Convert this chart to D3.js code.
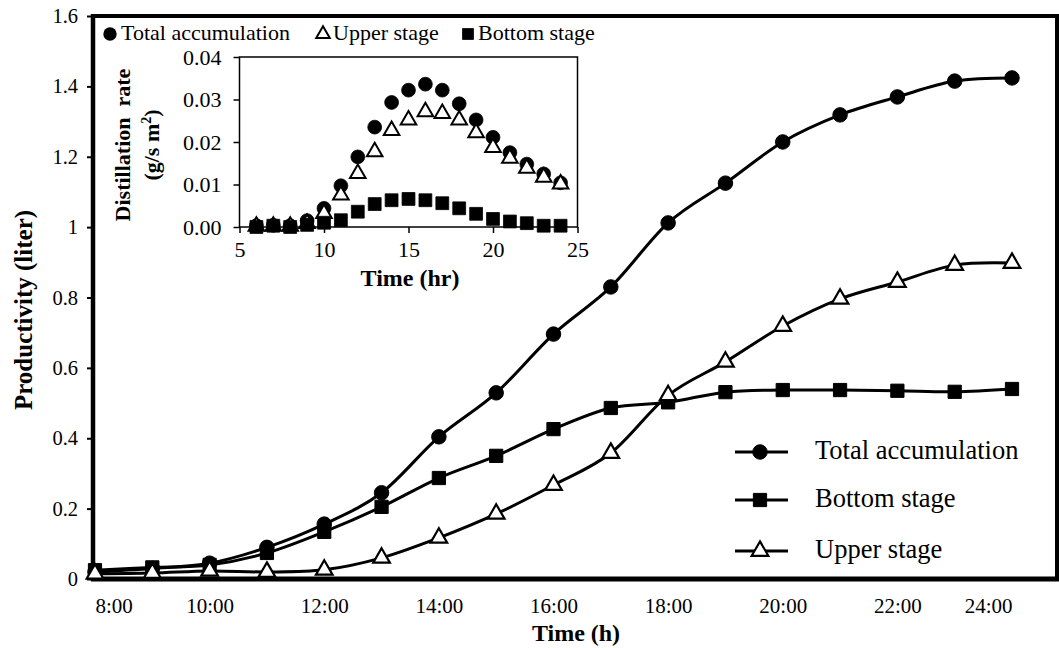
<!DOCTYPE html>
<html><head><meta charset="utf-8">
<script src="https://cdn.jsdelivr.net/npm/d3@7"></script>
<style>
html,body{margin:0;padding:0;background:#fff;}
svg{display:block;font-family:"Liberation Serif","Times New Roman",serif;}
</style></head>
<body><svg id="c" width="1059" height="648"></svg>
<script>
// ---- Main chart data (cumulative productivity, liter) ----
const hours = [8,9,10,11,12,13,14,15,16,17,18,19,20,21,22,23,24];
const totalAcc = [0.02,0.03,0.045,0.09,0.156,0.245,0.404,0.529,0.696,0.83,1.012,1.125,1.242,1.319,1.37,1.415,1.424];
const bottomStage = [0.025,0.033,0.04,0.074,0.134,0.205,0.287,0.35,0.426,0.486,0.502,0.531,0.537,0.537,0.535,0.532,0.54];
const upperStage = [0.015,0.017,0.023,0.02,0.026,0.06,0.117,0.185,0.267,0.358,0.522,0.617,0.719,0.796,0.844,0.892,0.898];
const xTicks = [8,10,12,14,16,18,20,22,24];
const xTickLabels = ["8:00","10:00","12:00","14:00","16:00","18:00","20:00","22:00","24:00"];
const yTicks = [0,0.2,0.4,0.6,0.8,1,1.2,1.4,1.6];
const yTickLabels = ["0","0.2","0.4","0.6","0.8","1","1.2","1.4","1.6"];
const legendNames = ["Total accumulation","Bottom stage","Upper stage"];

// ---- Inset data (distillation rate, g/s m2) ----
const rateHours = [6,7,8,9,10,11,12,13,14,15,16,17,18,19,20,21,22,23,24];
const rateTotal = [0.0003,0.0004,0.0003,0.0015,0.0044,0.0097,0.0165,0.0235,0.0293,0.0322,0.0336,0.0322,0.029,0.0252,0.0211,0.0175,0.0148,0.0125,0.0104];
const rateUpper = [0.0002,0.0002,0.0002,0.0008,0.0032,0.0075,0.0126,0.0177,0.0227,0.0252,0.0271,0.0267,0.0252,0.0222,0.0187,0.0162,0.0138,0.0117,0.0101];
const rateBottom = [0,0.0003,0,0.0005,0.001,0.0016,0.0036,0.0054,0.0063,0.0066,0.0063,0.0056,0.0044,0.0031,0.0019,0.0013,0.0009,0.0003,0.0003];
const insetXTicks = [5,10,15,20,25];
const insetYTicks = [0,0.01,0.02,0.03,0.04];
const insetLegend = ["Total accumulation","Upper stage","Bottom stage"];

const svg = d3.select("#c");

// ---------- Main chart ----------
const x = d3.scaleLinear().domain([8,24]).range([95,1012]);
const y = d3.scaleLinear().domain([0,1.6]).range([579,16]);
const X0 = 93, X1 = 1057;

const sym = {
  circle: d3.symbol().type(d3.symbolCircle).size(165),
  square: d3.symbol().type(d3.symbolSquare).size(175),
  triangle: d3.symbol().type(d3.symbolTriangle).size(120)
};

// y axis ticks
const yAxis = d3.axisLeft(y).tickValues(yTicks).tickSize(6).tickSizeOuter(0)
  .tickFormat((d,i)=>yTickLabels[i]);
const gy = svg.append("g").attr("transform",`translate(${X0},0)`).call(yAxis);
gy.select(".domain").remove();
gy.selectAll(".tick line").attr("stroke","#000").attr("stroke-width",2);
gy.selectAll(".tick text").attr("x",-15).attr("font-size",20.5).attr("fill","#000")
  .attr("font-family","Liberation Serif");

// x axis labels (no ticks)
const xAxis = d3.axisBottom(x).tickValues(xTicks).tickSize(0).tickSizeOuter(0)
  .tickFormat((d,i)=>xTickLabels[i]);
const gx = svg.append("g").attr("transform",`translate(0,579)`).call(xAxis);
gx.select(".domain").remove();
gx.selectAll(".tick text").attr("y",34).attr("dy",0).attr("font-size",21).attr("fill","#000")
  .attr("font-family","Liberation Serif")
  .attr("text-anchor",(d,i)=> i===0 ? "start" : (i===xTicks.length-1 ? "end" : "middle"));

// frame
svg.append("line").attr("x1",X0-2).attr("x2",1059).attr("y1",16).attr("y2",16).attr("stroke","#000").attr("stroke-width",4);
svg.append("line").attr("x1",X1).attr("x2",X1).attr("y1",16).attr("y2",579).attr("stroke","#000").attr("stroke-width",4);
svg.append("line").attr("x1",X0).attr("x2",X0).attr("y1",14).attr("y2",581).attr("stroke","#000").attr("stroke-width",4.5);
svg.append("line").attr("x1",X0-2).attr("x2",1059).attr("y1",579).attr("y2",579).attr("stroke","#000").attr("stroke-width",5);

// axis titles
svg.append("text").attr("x",576).attr("y",641).attr("text-anchor","middle")
  .attr("font-weight","bold").attr("font-size",24).text("Time (h)");
svg.append("text").attr("transform","translate(32,310) rotate(-90)").attr("text-anchor","middle")
  .attr("font-weight","bold").attr("font-size",25).text("Productivity (liter)");

const line = d3.line().x(d=>x(d[0])).y(d=>y(d[1])).curve(d3.curveCardinal.tension(0));
const mainSeries = [
  {vals: totalAcc, s: "circle", fill: "#000"},
  {vals: bottomStage, s: "square", fill: "#000"},
  {vals: upperStage, s: "triangle", fill: "#fff"}
];
mainSeries.forEach(sr=>{
  const pts = hours.map((h,i)=>[h, sr.vals[i]]);
  svg.append("path").attr("d", line(pts)).attr("fill","none").attr("stroke","#000").attr("stroke-width",3);
  svg.append("g").selectAll("path").data(pts).join("path")
    .attr("d", sym[sr.s]())
    .attr("transform", d=>`translate(${x(d[0])},${y(d[1])})`)
    .attr("fill", sr.fill).attr("stroke","#000").attr("stroke-width", sr.s==="triangle"?2.2:1);
});

// main legend (lower right)
const legRows = [
  {name: legendNames[0], s:"circle", fill:"#000", cy:452},
  {name: legendNames[1], s:"square", fill:"#000", cy:500},
  {name: legendNames[2], s:"triangle", fill:"#fff", cy:551}
];
legRows.forEach(r=>{
  svg.append("line").attr("x1",735).attr("x2",788).attr("y1",r.cy).attr("y2",r.cy).attr("stroke","#000").attr("stroke-width",3);
  svg.append("path").attr("d", sym[r.s]()).attr("transform",`translate(760,${r.cy})`)
    .attr("fill", r.fill).attr("stroke","#000").attr("stroke-width", r.s==="triangle"?2.2:1);
  svg.append("text").attr("x",815).attr("y",r.cy+7).attr("font-size",26.5).text(r.name);
});

// ---------- Inset chart ----------
const ix = d3.scaleLinear().domain([5,25]).range([239.5,577.5]);
const iy = d3.scaleLinear().domain([0,0.04]).range([227,57]);

svg.append("rect").attr("x",239.5).attr("y",57).attr("width",338).attr("height",170)
  .attr("fill","none").attr("stroke","#000").attr("stroke-width",1.5);

const iyAxis = d3.axisLeft(iy).tickValues(insetYTicks).tickSize(6).tickSizeOuter(0).tickFormat(d3.format(".2f"));
const giy = svg.append("g").attr("transform","translate(239.5,0)").call(iyAxis);
giy.select(".domain").remove();
giy.selectAll(".tick line").attr("stroke","#000").attr("stroke-width",1.5);
giy.selectAll(".tick text").attr("x",-18).attr("font-size",22).attr("fill","#000").attr("font-family","Liberation Serif");

const ixAxis = d3.axisBottom(ix).tickValues(insetXTicks).tickSize(6).tickSizeOuter(0).tickFormat(d3.format("d"));
const gix = svg.append("g").attr("transform","translate(0,227)").call(ixAxis);
gix.select(".domain").remove();
gix.selectAll(".tick line").attr("stroke","#000").attr("stroke-width",1.5);
gix.selectAll(".tick text").attr("y",14).attr("font-size",22).attr("fill","#000").attr("font-family","Liberation Serif");

svg.append("text").attr("x",410).attr("y",286).attr("text-anchor","middle")
  .attr("font-weight","bold").attr("font-size",24).text("Time (hr)");
svg.append("text").attr("transform","translate(130,145) rotate(-90)").attr("text-anchor","middle")
  .attr("font-weight","bold").attr("font-size",22).attr("xml:space","preserve").text("Distillation  rate");
const t2 = svg.append("text").attr("transform","translate(159,145) rotate(-90)").attr("text-anchor","middle")
  .attr("font-weight","bold").attr("font-size",22);
t2.append("tspan").text("(g/s m");
t2.append("tspan").attr("dy",-8).attr("font-size",14).text("2");
t2.append("tspan").attr("dy",8).text(")");

const isym = {
  circle: d3.symbol().type(d3.symbolCircle).size(150),
  square: d3.symbol().type(d3.symbolSquare).size(165),
  triangle: d3.symbol().type(d3.symbolTriangle).size(105)
};
const insetSeries = [
  {vals: rateTotal, s:"circle", fill:"#000"},
  {vals: rateUpper, s:"triangle", fill:"#fff"},
  {vals: rateBottom, s:"square", fill:"#000"}
];
insetSeries.forEach(sr=>{
  svg.append("g").selectAll("path").data(rateHours.map((h,i)=>[h,sr.vals[i]])).join("path")
    .attr("d", isym[sr.s]())
    .attr("transform", d=>`translate(${ix(d[0])},${iy(d[1])})`)
    .attr("fill", sr.fill).attr("stroke","#000").attr("stroke-width", sr.s==="triangle"?2:0.8);
});

// inset legend (top)
const insetLeg = [
  {name: insetLegend[0], s:"circle", fill:"#000", mx:110, tx:121},
  {name: insetLegend[1], s:"triangle", fill:"#fff", mx:323, tx:333},
  {name: insetLegend[2], s:"square", fill:"#000", mx:468, tx:478}
];
insetLeg.forEach(r=>{
  if (r.s==="circle") {
    svg.append("path").attr("d", d3.symbol().type(d3.symbolCircle).size(140)())
      .attr("transform",`translate(${r.mx},34)`).attr("fill","#000");
  } else {
    svg.append("path").attr("d", d3.symbol().type(r.s==="triangle"?d3.symbolTriangle:d3.symbolSquare).size(r.s==="triangle"?80:120)())
      .attr("transform",`translate(${r.mx},34)`).attr("fill",r.fill).attr("stroke","#000").attr("stroke-width", r.s==="triangle"?2:0.8);
  }
  svg.append("text").attr("x",r.tx).attr("y",39.5).attr("font-size",22).text(r.name);
});
</script></body></html>
